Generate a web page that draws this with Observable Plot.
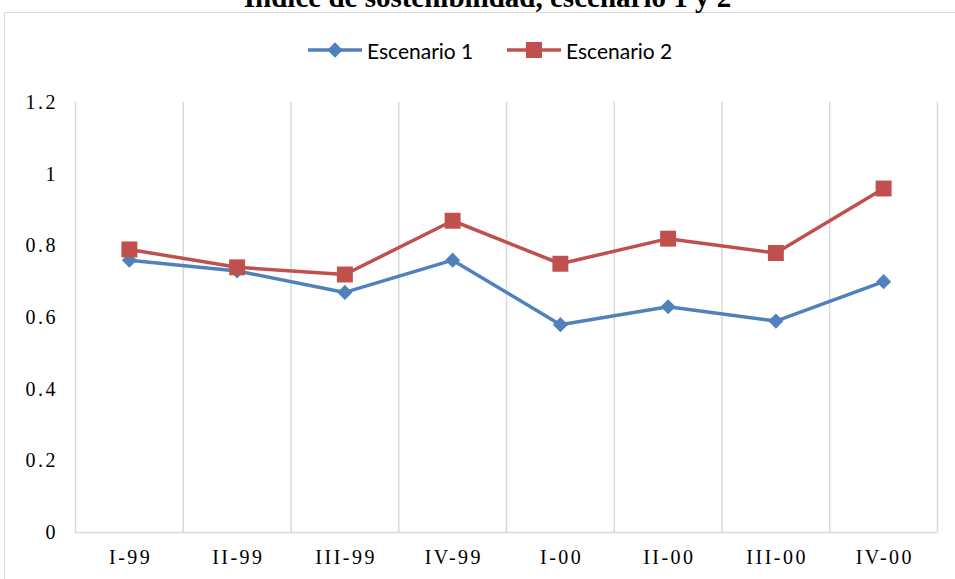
<!DOCTYPE html>
<html>
<head>
<meta charset="utf-8">
<script src="https://cdn.jsdelivr.net/npm/d3@7"></script>
<script src="https://cdn.jsdelivr.net/npm/@observablehq/plot@0.6"></script>
<style>
  html, body { margin: 0; padding: 0; background: #fff; overflow: hidden; }
  #page { position: relative; width: 955px; height: 579px; overflow: hidden; }
  #frame { position: absolute; left: 4px; top: 12px; width: 970px; height: 620px; border: 1.5px solid #d9d9d9; box-sizing: border-box; }
  #title { position: absolute; left: 10px; width: 955px; top: -17px; text-align: center; font-family: "Liberation Serif", "Times New Roman", serif; font-weight: bold; font-size: 29px; line-height: 29px; color: #000; white-space: nowrap; }
  #legend { position: absolute; top: 37px; left: 0; width: 955px; height: 26px; }
  .item { position: absolute; top: 0; height: 26px; display: flex; align-items: center; font-family: Lato, "Open Sans", sans-serif; font-size: 21px; color: #000; }
  .item svg { margin-right: 5px; }
  #chart { position: absolute; left: 0; top: 0; }
</style>
</head>
<body>
<div id="page">
  <div id="frame"></div>
  <div id="chart"></div>
  <div id="title">Índice de sostenibilidad, escenario 1 y 2</div>
  <div id="legend"></div>
</div>
<script>
const categories = ["I-99", "II-99", "III-99", "IV-99", "I-00", "II-00", "III-00", "IV-00"];
const escenario1 = [0.76, 0.73, 0.67, 0.76, 0.58, 0.63, 0.59, 0.70];
const escenario2 = [0.79, 0.74, 0.72, 0.87, 0.75, 0.82, 0.78, 0.96];
const seriesNames = ["Escenario 1", "Escenario 2"];
const yTicks = [0, 0.2, 0.4, 0.6, 0.8, 1, 1.2];

const colors = {"Escenario 1": "#4f81bd", "Escenario 2": "#c0504d"};

const rows = [];
categories.forEach((c, i) => {
  rows.push({i, cat: c, serie: seriesNames[0], v: escenario1[i]});
  rows.push({i, cat: c, serie: seriesNames[1], v: escenario2[i]});
});
const s1 = rows.filter(d => d.serie === seriesNames[0]);
const s2 = rows.filter(d => d.serie === seriesNames[1]);
const gridPos = d3.range(categories.length + 1).map(k => k - 0.5);

const plot = Plot.plot({
  width: 955,
  height: 579,
  marginLeft: 75,
  marginRight: 18,
  marginTop: 102,
  marginBottom: 47,
  style: {background: "transparent", overflow: "visible"},
  x: {
    type: "linear",
    domain: [-0.5, categories.length - 0.5],
    label: null
  },
  y: {
    domain: [0, 1.2],
    label: null
  },
  marks: [
    Plot.ruleX(gridPos, {x: d => d, stroke: "#d9d9d9", strokeWidth: 1.5}),
    Plot.ruleY([0], {stroke: "#d9d9d9", strokeWidth: 1.5}),
    Plot.axisX({tickSize: 0, tickPadding: 17, tickFormat: i => categories[i], ticks: d3.range(categories.length),
      fontFamily: "Liberation Serif, Times New Roman, serif", fontSize: 20, fontWeight: "normal", fill: "#000"}),
    Plot.axisY({tickSize: 0, tickPadding: 20, ticks: yTicks, tickFormat: d => String(+d.toFixed(1)),
      fontFamily: "Liberation Serif, Times New Roman, serif", fontSize: 20, fontWeight: "normal", fill: "#000"}),
    Plot.line(s2, {x: "i", y: "v", stroke: colors["Escenario 2"], strokeWidth: 3.5}),
    Plot.line(s1, {x: "i", y: "v", stroke: colors["Escenario 1"], strokeWidth: 3.5}),
    Plot.dot(s1, {x: "i", y: "v", symbol: "diamond2", r: 6.8, fill: colors["Escenario 1"], stroke: null}),
    Plot.dot(s2, {x: "i", y: "v", symbol: "square", r: 9, fill: colors["Escenario 2"], stroke: null})
  ]
});
// Excel-like wider letter spacing on the tick labels
d3.select(plot).selectAll('g[aria-label="x-axis tick label"] text')
  .style("letter-spacing", "2.5px").attr("dx", 1.25);
d3.select(plot).selectAll('g[aria-label="y-axis tick label"] text')
  .style("letter-spacing", "2.5px").attr("dx", 2.5);
document.getElementById("chart").appendChild(plot);

// Legend
const legend = document.getElementById("legend");
const legendX = {"Escenario 1": 308, "Escenario 2": 507};
seriesNames.forEach(name => {
  const div = document.createElement("div");
  div.className = "item";
  div.style.left = legendX[name] + "px";
  const sw = d3.create("svg").attr("width", 54).attr("height", 26);
  sw.append("line").attr("x1", 0).attr("x2", 54).attr("y1", 13).attr("y2", 13)
    .attr("stroke", colors[name]).attr("stroke-width", 3.5);
  if (name === "Escenario 1") {
    sw.append("path").attr("d", d3.symbol(d3.symbolDiamond2, 150)()).attr("transform", "translate(27,13)").attr("fill", colors[name]);
  } else {
    sw.append("rect").attr("x", 27 - 8).attr("y", 13 - 8).attr("width", 16).attr("height", 16).attr("fill", colors[name]);
  }
  div.appendChild(sw.node());
  const span = document.createElement("span");
  span.textContent = name;
  div.appendChild(span);
  legend.appendChild(div);
});
</script>
</body>
</html>
